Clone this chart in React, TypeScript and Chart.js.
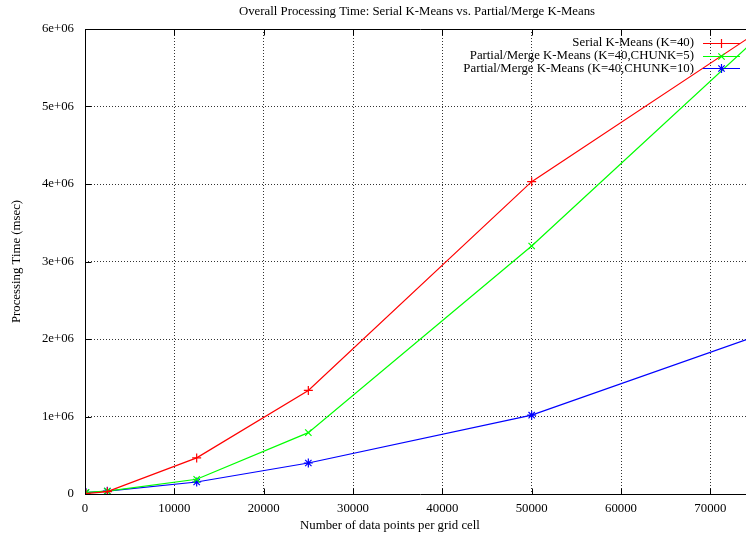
import React, { useEffect, useRef } from 'react';
import { Chart, registerables } from 'chart.js';

Chart.register(...registerables);

const TITLE = 'Overall Processing Time: Serial K-Means vs. Partial/Merge K-Means';
const X_LABEL = 'Number of data points per grid cell';
const Y_LABEL = 'Processing Time (msec)';

const xPoints = [100, 2500, 12500, 25000, 50000, 75000];
const serial = [5000, 30000, 466000, 1336000, 4030000, 5940000];
const chunk5 = [20000, 38000, 190000, 792000, 3200000, 5860000];
const chunk10 = [18000, 36000, 155000, 400000, 1017000, 2030000];

const seriesNames = [
  'Serial K-Means (K=40)',
  'Partial/Merge K-Means (K=40,CHUNK=5)',
  'Partial/Merge K-Means (K=40,CHUNK=10)',
];
const seriesColors = ['#ff0000', '#00ff00', '#0000ff'];
const seriesMarkers = ['cross', 'crossRot', 'star'];

const xTicks = [0, 10000, 20000, 30000, 40000, 50000, 60000, 70000];
const yTicks = [0, 1000000, 2000000, 3000000, 4000000, 5000000, 6000000];

const FONT = "'Liberation Serif', 'Times New Roman', serif";
const FS = 12.8;

function drawMarker(ctx: CanvasRenderingContext2D, style: string, x: number, y: number, r: number) {
  ctx.beginPath();
  if (style === 'cross' || style === 'star') {
    ctx.moveTo(x - r, y);
    ctx.lineTo(x + r, y);
    ctx.moveTo(x, y - r);
    ctx.lineTo(x, y + r);
  }
  if (style === 'crossRot' || style === 'star') {
    const d = r * Math.SQRT1_2;
    ctx.moveTo(x - d, y - d);
    ctx.lineTo(x + d, y + d);
    ctx.moveTo(x - d, y + d);
    ctx.lineTo(x + d, y - d);
  }
  ctx.stroke();
}

const framePlugin = {
  id: 'gnuFrame',
  afterDatasetsDraw(chart: any) {
    const { ctx, chartArea } = chart;
    const xs = chart.scales.x;
    const ys = chart.scales.y;
    const L = chartArea.left + 0.5;
    const R = chartArea.right + 0.5;
    const T = chartArea.top + 0.5;
    const B = chartArea.bottom + 0.5;
    ctx.save();
    ctx.strokeStyle = '#000';
    ctx.lineWidth = 1;
    ctx.setLineDash([]);
    ctx.beginPath();
    ctx.rect(L, T, R - L, B - T);
    ctx.stroke();
    const tl = 6;
    ctx.beginPath();
    xTicks.forEach((v) => {
      const px = Math.round(xs.getPixelForValue(v)) + 0.5;
      ctx.moveTo(px, B);
      ctx.lineTo(px, B - tl);
      ctx.moveTo(px, T);
      ctx.lineTo(px, T + tl);
    });
    yTicks.forEach((v) => {
      const py = Math.round(ys.getPixelForValue(v)) + 0.5;
      ctx.moveTo(L, py);
      ctx.lineTo(L + tl, py);
      ctx.moveTo(R, py);
      ctx.lineTo(R - tl, py);
    });
    ctx.stroke();
    ctx.restore();
  },
  afterDraw(chart: any) {
    const { ctx } = chart;
    ctx.save();
    ctx.setLineDash([]);
    ctx.globalAlpha = 1;
    ctx.fillStyle = '#000';
    ctx.font = `${FS}px ${FONT}`;
    ctx.textBaseline = 'middle';
    ctx.textAlign = 'center';
    ctx.fillText(TITLE, 417, 12);
    ctx.fillText(X_LABEL, 390, 526);
    // legend
    ctx.textAlign = 'right';
    seriesNames.forEach((name, i) => {
      const y = 43 + i * 12.6;
      const yy = Math.round(y) + 0.5;
      ctx.fillStyle = '#000';
      ctx.fillText(name, 694, y);
      ctx.strokeStyle = seriesColors[i];
      ctx.lineWidth = 1.2;
      ctx.beginPath();
      ctx.moveTo(703, yy);
      ctx.lineTo(740, yy);
      ctx.stroke();
      drawMarker(ctx, seriesMarkers[i], 721.5, yy, 4.5);
    });
    ctx.restore();
  },
};

export default function App() {
  const ref = useRef<HTMLCanvasElement>(null);
  useEffect(() => {
    if (!ref.current) return;
    const datasets = [serial, chunk5, chunk10].map((vals, i) => ({
      label: seriesNames[i],
      data: vals.map((v, j) => ({ x: xPoints[j], y: v })),
      borderColor: seriesColors[i],
      backgroundColor: seriesColors[i],
      borderWidth: 1.2,
      pointStyle: seriesMarkers[i] as any,
      pointRadius: 4.5,
      pointBorderWidth: 1.2,
      pointBorderColor: seriesColors[i],
      tension: 0,
      fill: false,
    }));
    const chart = new Chart(ref.current, {
      type: 'line',
      data: { datasets },
      options: {
        responsive: false,
        animation: false,
        devicePixelRatio: 1,
        layout: { padding: { top: 29, left: 0, right: 15, bottom: 0 } },
        plugins: {
          legend: { display: false },
          title: { display: false },
          tooltip: { enabled: false },
        },
        scales: {
          x: {
            type: 'linear',
            min: 0,
            max: 75000,
            afterBuildTicks: (s: any) => {
              s.ticks = xTicks.map((v) => ({ value: v }));
            },
            afterFit: (s: any) => {
              s.height = 43;
            },
            grid: { drawTicks: false, color: 'rgba(0,0,0,0.8)', lineWidth: 1 },
            border: { display: false, dash: [1, 2] },
            ticks: {
              color: '#000',
              font: { family: FONT, size: FS },
              padding: 7,
              maxRotation: 0,
              autoSkip: false,
              callback: (v: any) => String(v),
            },
          },
          y: {
            type: 'linear',
            min: 0,
            max: 6000000,
            afterBuildTicks: (s: any) => {
              s.ticks = yTicks.map((v) => ({ value: v }));
            },
            afterFit: (s: any) => {
              s.width = 85;
            },
            grid: { drawTicks: false, color: 'rgba(0,0,0,0.8)', lineWidth: 1 },
            border: { display: false, dash: [1, 2] },
            title: {
              display: true,
              text: Y_LABEL,
              color: '#000',
              font: { family: FONT, size: FS },
              padding: { top: 9, bottom: 0 },
            },
            ticks: {
              color: '#000',
              font: { family: FONT, size: FS },
              padding: 11,
              autoSkip: false,
              callback: (v: any) => (v === 0 ? '0' : `${Math.round(v / 1000000)}e+06`),
            },
          },
        },
      } as any,
      plugins: [framePlugin],
    });
    return () => chart.destroy();
  }, []);

  return (
    <div
      style={{
        position: 'fixed',
        left: 0,
        top: 0,
        width: 746,
        height: 537,
        overflow: 'hidden',
        background: '#fff',
      }}
    >
      <canvas ref={ref} width={770} height={537} style={{ display: 'block' }} />
    </div>
  );
}
